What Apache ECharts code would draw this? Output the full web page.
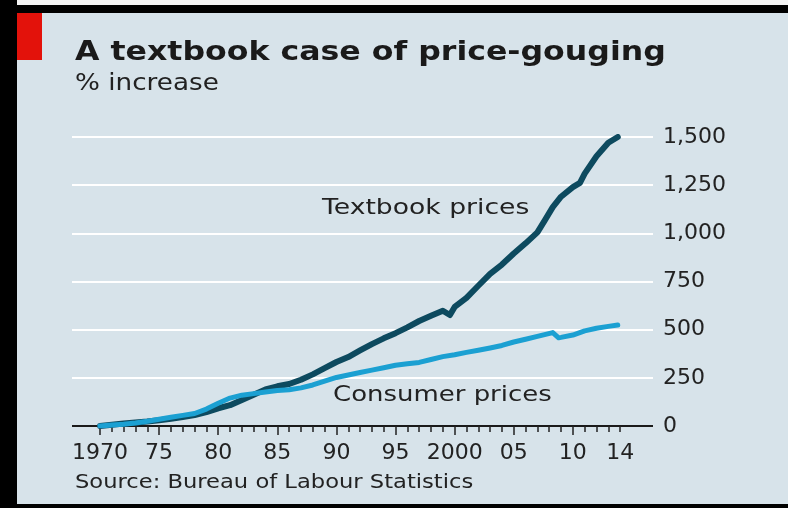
<!DOCTYPE html>
<html>
<head>
<meta charset="utf-8">
<script src="https://cdn.jsdelivr.net/npm/echarts@6/dist/echarts.min.js"></script>
<style>
html, body { margin: 0; padding: 0; background: #d7e3ea; }
#chart { width: 788px; height: 508px; }
</style>
</head>
<body>
<div id="chart"></div>
<script>
// values, % increase since 1970
var textbookYears = [1970, 1971, 1972, 1973, 1974, 1975, 1976, 1977, 1978, 1979,
    1980, 1981, 1982, 1983, 1984, 1985, 1986, 1987, 1988, 1989,
    1990, 1991, 1992, 1993, 1994, 1995, 1996, 1997, 1998, 1999, 1999.6,
    2000, 2001, 2002, 2003, 2004, 2005, 2006, 2007, 2007.6, 2008.3, 2009,
    2010, 2010.6, 2011, 2012, 2013, 2013.8]
var textbookValues = [0, 7, 13, 18, 23, 30, 38, 47, 57, 72,
    92, 108, 135, 162, 190, 206, 218, 240, 268, 300,
    332, 358, 392, 425, 455, 482, 512, 545, 572, 598, 576,
    618, 665, 728, 790, 838, 895, 948, 1005, 1065, 1136, 1190,
    1240, 1262, 1310, 1400, 1470, 1500]

var consumerYears = [1970, 1971, 1972, 1973, 1974, 1975, 1976, 1977, 1978, 1979,
    1980, 1981, 1982, 1983, 1984, 1985, 1986, 1987, 1988, 1989,
    1990, 1991, 1992, 1993, 1994, 1995, 1996, 1997, 1998, 1999,
    2000, 2001, 2002, 2003, 2004, 2005, 2006, 2007, 2008.3, 2008.8, 2009,
    2010, 2011, 2012, 2013, 2013.8]
var consumerValues = [0, 5, 9, 16, 25, 35, 45, 55, 65, 88,
    118, 145, 160, 168, 176, 184, 188, 198, 213, 233,
    252, 265, 278, 290, 302, 315, 323, 330, 345, 360,
    370, 382, 393, 405, 418, 436, 450, 465, 485, 458, 460,
    472, 494, 507, 517, 524]

var minorTickYears = [1970, 1971, 1972, 1973, 1974, 1975, 1976, 1977, 1978, 1979,
    1980, 1981, 1982, 1983, 1984, 1985, 1986, 1987, 1988, 1989,
    1990, 1991, 1992, 1993, 1994, 1995, 1996, 1997, 1998, 1999,
    2000, 2001, 2002, 2003, 2004, 2005, 2006, 2007, 2008, 2009,
    2010, 2011, 2012, 2013, 2014]
var majorTickYears = [1970, 1975, 1980, 1985, 1990, 1995, 2000, 2005, 2010]
var labelYears = [1970, 1975, 1980, 1985, 1990, 1995, 2000, 2005, 2010, 2014]
var xTickLabels = ['1970', '75', '80', '85', '90', '95', '2000', '05', '10', '14']
var yTickLabels = ['0', '250', '500', '750', '1,000', '1,250', '1,500']

var font = 'DejaVu Sans'
var ink = '#222222'

function pairs(xs, ys) {
    var out = []
    for (var i = 0; i < xs.length; i++) out.push([xs[i], ys[i]])
    return out
}

// the original lettering is set wide, so stretch the free text a bit
function label(text, x, y, size, stretch, bold) {
    return {
        type: 'text', x: x, y: y, scaleX: stretch,
        style: {
            text: text, fill: bold ? '#1a1a1a' : ink, verticalAlign: 'top',
            font: (bold ? 'bold ' : '') + size + 'px "DejaVu Sans"'
        }
    }
}

var chart = echarts.init(document.getElementById('chart'))

var xMin = 1967.63
var xMax = 2016.78

var option = {
    backgroundColor: '#d7e3ea',
    animation: false,
    grid: { left: 72, right: 135, top: 137, bottom: 82 },
    xAxis: [
        {
            type: 'value', min: xMin, max: xMax, position: 'bottom',
            axisLine: { show: false }, splitLine: { show: false },
            axisTick: { show: true, length: 6, customValues: minorTickYears, lineStyle: { color: ink, width: 1.5 } },
            axisLabel: { show: false }
        },
        {
            type: 'value', min: xMin, max: xMax, position: 'bottom',
            axisLine: { show: false }, splitLine: { show: false },
            axisTick: { show: true, length: 9, customValues: majorTickYears, lineStyle: { color: ink, width: 1.5 } },
            axisLabel: {
                show: true, customValues: labelYears, margin: 16,
                fontFamily: font, fontSize: 22, color: ink,
                formatter: function (v) { return xTickLabels[labelYears.indexOf(v)] }
            }
        }
    ],
    yAxis: {
        type: 'value', position: 'right', min: 0, max: 1500, interval: 250,
        axisLine: { show: false }, axisTick: { show: false },
        splitLine: {
            show: true,
            lineStyle: { color: ['#1a1a1a', '#ffffff', '#ffffff', '#ffffff', '#ffffff', '#ffffff', '#ffffff'], width: 2 }
        },
        axisLabel: {
            margin: 10, fontFamily: font, fontSize: 22, color: ink,
            formatter: function (v) { return yTickLabels[v / 250] }
        }
    },
    series: [
        {
            name: 'Textbook prices', type: 'line', xAxisIndex: 0,
            data: pairs(textbookYears, textbookValues),
            showSymbol: false, z: 3,
            lineStyle: { color: '#0d4a5f', width: 6, cap: 'round', join: 'round' }
        },
        {
            name: 'Consumer prices', type: 'line', xAxisIndex: 0,
            data: pairs(consumerYears, consumerValues),
            showSymbol: false, z: 4,
            lineStyle: { color: '#1ba0d2', width: 5, cap: 'round', join: 'round' }
        }
    ],
    graphic: [
        // photo frame
        { type: 'rect', shape: { x: 0, y: 0, width: 788, height: 5 }, style: { fill: '#f4f4f4' } },
        { type: 'rect', shape: { x: 0, y: 5, width: 788, height: 8 }, style: { fill: '#000' } },
        { type: 'rect', shape: { x: 0, y: 0, width: 17, height: 508 }, style: { fill: '#000' } },
        { type: 'rect', shape: { x: 0, y: 504, width: 788, height: 4 }, style: { fill: '#000' } },
        { type: 'rect', shape: { x: 17, y: 13, width: 25, height: 47 }, style: { fill: '#e3120b' } },
        label('A textbook case of price-gouging', 75, 39, 27, 1.17, true),
        label('% increase', 75, 73, 23, 1.14),
        label('Textbook prices', 322, 197, 22, 1.21),
        label('Consumer prices', 333, 384, 22, 1.18),
        label('Source: Bureau of Labour Statistics', 75, 474, 19, 1.19)
    ]
}

chart.setOption(option)
</script>
</body>
</html>
